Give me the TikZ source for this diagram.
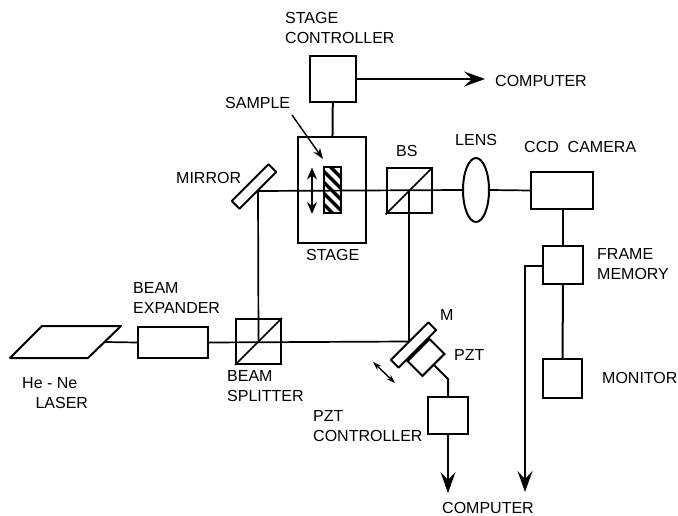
\documentclass[tikz,border=0pt]{standalone}
\usepackage{fontspec}
\setmainfont{Liberation Sans}
\usetikzlibrary{positioning, arrows.meta, calc, shapes.geometric}

\begin{document}
\begin{tikzpicture}[
  x=1pt, y=-1pt,
  every node/.style={font=\fontsize{16}{20}\selectfont},
  unitbox/.style={rectangle, draw, line width=2pt, fill=white, inner sep=0pt},
  cube/.style={rectangle, draw, line width=2pt, minimum size=45pt, inner sep=0pt},
  mirrorbar/.style={rectangle, draw, line width=2pt, fill=white, rotate=45, minimum width=52pt, minimum height=11pt, inner sep=0pt, rounded corners=0.5pt},
  caption/.style={anchor=west, align=left, inner sep=0pt},
  beam/.style={line width=1.7pt},
  wire/.style={line width=2pt},
  signal/.style={-{Stealth[length=21pt,width=15pt,inset=8pt]}, line width=1.9pt},
  shift arrow/.style={{Stealth[length=9pt,width=6pt]}-{Stealth[length=9pt,width=6pt]}, line width=1.4pt},
]
\useasboundingbox (0,0) rectangle (678,516);

% stage and sample
\node[unitbox, minimum width=68pt, minimum height=106pt] (stage) at (332,190) {};
\node[unitbox, minimum width=46pt, minimum height=46pt] (stagectrl) at (333,79) {};
\node[rectangle, draw, line width=2pt, minimum width=17pt, minimum height=46pt, inner sep=0pt,
  path picture={
    \foreach \i in {-3,...,3}
      \draw[line width=3.4pt] ($(path picture bounding box.center)+(-10,{\i*11-10})$) -- ++(20,20);
  }] (sample) at (332,190.5) {};

% optics
\node[cube] (bs) at (409,191) {};
\node[cube] (splitter) at (258.5,341.5) {};
\draw[beam] (bs.south west) -- (bs.north east);
\draw[beam] (splitter.south west) -- (splitter.north east);
\node[ellipse, draw, line width=2pt, minimum width=26pt, minimum height=64pt, inner sep=0pt] (lens) at (476,190) {};
\node[mirrorbar] (mirror) at (254,186.5) {};
\node[mirrorbar, minimum width=53pt] (m) at (413.5,345) {};
\node[unitbox, rotate=45, minimum width=31pt, minimum height=21pt] (pzt) at (426,357.5) {};

% camera side
\node[unitbox, minimum width=62pt, minimum height=37pt] (ccd) at (562,190.5) {};
\node[unitbox, minimum width=40pt, minimum height=38pt] (frame) at (563,265) {};
\node[unitbox, minimum width=39pt, minimum height=39pt] (monitor) at (562.5,378.5) {};
\node[unitbox, minimum width=40pt, minimum height=37pt] (pztctrl) at (448,415.5) {};

% laser
\coordinate (la) at (42,326);
\coordinate (lb) at (121,326);
\coordinate (lc) at (88,358);
\coordinate (ld) at (10,358);
\coordinate (laser) at (105,342);
\draw[line width=2pt, line join=round] (la) -- (lb) -- (lc) -- (ld) -- cycle;
\node[unitbox, minimum width=70pt, minimum height=31pt] (expander) at (173,342.5) {};

% beam path
\coordinate (mirrorhit) at (258,191);
\coordinate (mhit) at (409,341.5);
\draw[beam] (mirrorhit) -- (lens.west);
\draw[beam] (lens.east) -- (ccd.west);
\draw[beam] (laser) -- (expander.west);
\draw[beam] (expander.east) -- (mhit);
\draw[beam] (mirrorhit) -- (splitter.center);
\draw[beam] (bs.center) -- (mhit);

% wires
\coordinate (pztout) at (434,365);
\coordinate (pztbend) at (448,379);
\coordinate (framestub) at (525,266);
\coordinate (stagecomp) at (485,79);
\coordinate (pztcomp) at (448,493);
\coordinate (framecomp) at (525,492);
\draw[wire] (stagectrl) -- (stage);
\draw[signal] (stagectrl) -- (stagecomp);
\draw[wire] (pztout) -- (pztbend) -- (pztbend |- pztctrl.north);
\draw[signal] (pztctrl) -- (pztcomp);
\draw[wire] (ccd.south -| frame) -- (frame);
\draw[wire] (frame) -- (monitor);
\draw[signal] (frame.west |- framestub) -- (framestub) -- (framecomp);

% small arrows
\coordinate (shifttop) at (312,167.5);
\coordinate (shiftbot) at (312,214);
\coordinate (samplefrom) at (292,115);
\coordinate (sampleto) at (323,159);
\coordinate (mshifta) at (373,362);
\coordinate (mshiftb) at (395,383);
\draw[{Stealth[length=12pt,width=10pt]}-{Stealth[length=12pt,width=10pt]}, line width=1.8pt] (shifttop) -- (shiftbot);
\draw[-{Stealth[length=11pt,width=8pt]}, line width=1.4pt] (samplefrom) -- (sampleto);
\draw[shift arrow] (mshifta) -- (mshiftb);

% captions
\node[caption] (stagectrltxt) at (285,28) {STAGE\\CONTROLLER};
\node[caption] (comptxta) at (495,81) {COMPUTER};
\node[caption] (sampletxt) at (225,103) {SAMPLE};
\node[caption] (mirrortxt) at (176,178) {MIRROR};
\node[caption] (bstxt) at (396,151) {BS};
\node[caption] (lenstxt) at (455,140) {LENS};
\node[caption] (ccdtxt) at (524,147) {CCD\ \ CAMERA};
\node[caption] (frametxt) at (597,264.5) {FRAME\\MEMORY};
\node[caption] (monitortxt) at (602,378) {MONITOR};
\node[caption] (stagetxt) at (306,255) {STAGE};
\node[caption] (expandertxt) at (133,298) {BEAM\\EXPANDER};
\node[caption] (splittertxt) at (227,386) {BEAM\\SPLITTER};
\node[caption] (lasertxt) at (22,393) {He - Ne\\\ \ \ LASER};
\node[caption] (mtxt) at (440,315) {M};
\node[caption] (pzttxt) at (454,355) {PZT};
\node[caption] (pztctrltxt) at (313,426.5) {PZT\\CONTROLLER};
\node[caption] (comptxtb) at (442,508) {COMPUTER};
\end{tikzpicture}
\end{document}
